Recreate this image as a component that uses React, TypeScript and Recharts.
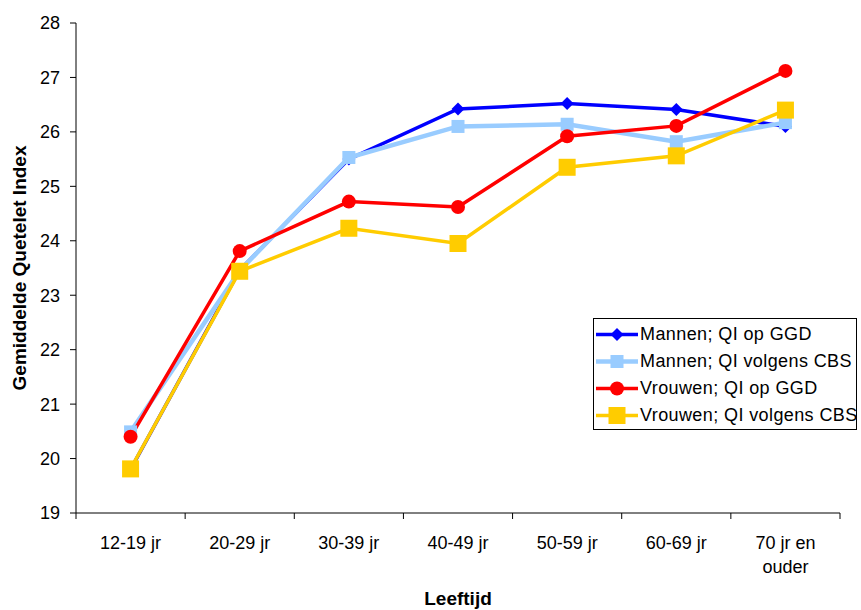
import React from "react";
import { LineChart, Line, XAxis, YAxis, Legend } from "recharts";

const categories = ["12-19 jr", "20-29 jr", "30-39 jr", "40-49 jr", "50-59 jr", "60-69 jr", "70 jr en\nouder"];
const mannenGGD = [19.8, 23.46, 25.5, 26.42, 26.52, 26.41, 26.1];
const mannenCBS = [20.49, 23.45, 25.53, 26.1, 26.14, 25.82, 26.17];
const vrouwenGGD = [20.4, 23.81, 24.72, 24.62, 25.92, 26.11, 27.12];
const vrouwenCBS = [19.81, 23.44, 24.23, 23.95, 25.35, 25.56, 26.4];
const yTicks = [19, 20, 21, 22, 23, 24, 25, 26, 27, 28];
const xBounds = [0, 1, 2, 3, 4, 5, 6, 7];

const W = 861;
const H = 610;
const M = { top: 23, right: 21, bottom: 0, left: 0 };
const Y_W = 76;
const BAND = (W - M.left - M.right - Y_W) / categories.length;
const FONT = "'Liberation Sans', Arial, sans-serif";

const rows = categories.map((c, i) => ({
  x: i + 0.5,
  cat: c,
  mGGD: mannenGGD[i],
  mCBS: mannenCBS[i],
  vGGD: vrouwenGGD[i],
  vCBS: vrouwenCBS[i],
}));

type Shape = "diamond" | "square" | "circle";

function marker(shape: Shape, color: string, size: number, cx: number, cy: number, key?: any) {
  const h = size / 2;
  if (shape === "diamond")
    return <path key={key} d={`M${cx},${cy - h}L${cx + h},${cy}L${cx},${cy + h}L${cx - h},${cy}Z`} fill={color} />;
  if (shape === "square")
    return <rect key={key} x={cx - h} y={cy - h} width={size} height={size} fill={color} />;
  return <circle key={key} cx={cx} cy={cy} r={h} fill={color} />;
}

const series = [
  { key: "mGGD", name: "Mannen; QI op GGD", color: "#0000FF", width: 3.5, shape: "diamond" as Shape, size: 13 },
  { key: "mCBS", name: "Mannen; QI volgens CBS", color: "#99CCFF", width: 4.5, shape: "square" as Shape, size: 13 },
  { key: "vGGD", name: "Vrouwen; QI op GGD", color: "#FF0000", width: 3.5, shape: "circle" as Shape, size: 14 },
  { key: "vCBS", name: "Vrouwen; QI volgens CBS", color: "#FFCC00", width: 3.5, shape: "square" as Shape, size: 17 },
];

function XTick(props: any) {
  const { x, y, payload } = props;
  const v = payload.value;
  if (v >= categories.length) return null;
  const lines = categories[v].split("\n");
  const cx = x + BAND / 2;
  return (
    <text x={cx} y={y} textAnchor="middle" fontSize={18} fill="#000" fontFamily={FONT}>
      {lines.map((l, i) => (
        <tspan key={i} x={cx} dy={i === 0 ? 29.5 : 24}>
          {l}
        </tspan>
      ))}
    </text>
  );
}

function XLabel(props: any) {
  const vb = props.viewBox || {};
  return (
    <text x={vb.x + vb.width / 2} y={vb.y + 92} textAnchor="middle" fontSize={19} fontWeight="bold" fill="#000" fontFamily={FONT}>
      Leeftijd
    </text>
  );
}

function YLabel(props: any) {
  const vb = props.viewBox || {};
  const cx = vb.x + 19;
  const cy = vb.y + vb.height / 2;
  return (
    <text
      x={cx}
      y={cy}
      transform={`rotate(-90, ${cx}, ${cy})`}
      textAnchor="middle"
      dominantBaseline="central"
      fontSize={19}
      fontWeight="bold"
      fill="#000"
      fontFamily={FONT}
    >
      Gemiddelde Quetelet Index
    </text>
  );
}

function LegendBox() {
  return (
    <div
      style={{
        width: 262,
        height: 108,
        border: "1px solid #000",
        background: "#fff",
        paddingTop: 2,
        boxSizing: "content-box",
        fontFamily: FONT,
        fontSize: 18,
        letterSpacing: 0.4,
        color: "#000",
      }}
    >
      {series.map((s) => (
        <div key={s.key} style={{ display: "flex", alignItems: "center", height: 27 }}>
          <svg width={46} height={27} style={{ flex: "none" }}>
            <line x1={2} y1={13.5} x2={44} y2={13.5} stroke={s.color} strokeWidth={s.width} />
            {marker(s.shape, s.color, s.size, 23, 13.5)}
          </svg>
          <span style={{ whiteSpace: "nowrap", lineHeight: "27px" }}>{s.name}</span>
        </div>
      ))}
    </div>
  );
}

export default function App() {
  return (
    <div style={{ position: "absolute", left: 0, top: 0, width: W, height: H, background: "#fff" }}>
      <LineChart width={W} height={H} data={rows} margin={M}>
        <XAxis
          type="number"
          dataKey="x"
          domain={[0, 7]}
          ticks={xBounds}
          interval={0}
          height={97}
          tickSize={6}
          tickMargin={0}
          stroke="#000"
          tick={<XTick />}
          label={<XLabel />}
        />
        <YAxis
          domain={[19, 28]}
          ticks={yTicks}
          interval={0}
          width={Y_W}
          tickSize={6}
          tickMargin={10}
          stroke="#000"
          tick={{ fill: "#000", fontSize: 18, fontFamily: FONT }}
          label={<YLabel />}
        />
        <Legend
          layout="vertical"
          align="center"
          verticalAlign="middle"
          wrapperStyle={{ left: 593, top: 318, width: 264, height: 112 }}
          content={() => <LegendBox />}
        />
        {series.map((s) => (
          <Line
            key={s.key}
            dataKey={s.key}
            name={s.name}
            stroke={s.color}
            strokeWidth={s.width}
            isAnimationActive={false}
            dot={(p: any) => marker(s.shape, s.color, s.size, p.cx, p.cy, p.index)}
            activeDot={false}
          />
        ))}
      </LineChart>
    </div>
  );
}
